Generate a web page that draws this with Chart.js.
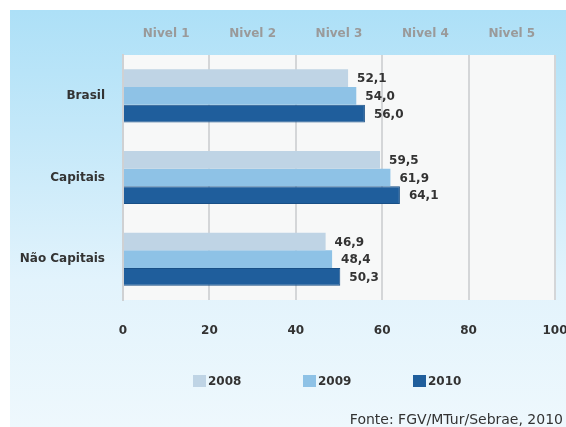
<!DOCTYPE html>
<html>

<head>
  <title>Nivel de competitividade</title>
  <script src="https://cdn.jsdelivr.net/npm/chart.js"></script>
  <style>
    body { margin: 0; background: #fff; }
    #wrap { position: relative; width: 566px; height: 427px; overflow: hidden; }
    #bg { position: absolute; left: 10px; top: 10px; right: 0; bottom: 0;
          background: linear-gradient(#ade0f7 0%, #c4e8f9 30%, #e2f3fc 65%, #eef8fd 100%); }
    #myChart { position: absolute; left: 0; top: 0; }
    #fonte { position: absolute; right: 3px; top: 411px; font: 14px "DejaVu Sans"; color: #333; }
  </style>
</head>

<body>
  <div id="wrap">
    <div id="bg"></div>
    <canvas id="myChart" width="566" height="427"></canvas>
    <div id="fonte">Fonte: FGV/MTur/Sebrae, 2010</div>
  </div>
  <script>
    // dados
    const categorias = ['Brasil', 'Capitais', 'Não Capitais'];
    const niveis = ['Nivel 1', 'Nivel 2', 'Nivel 3', 'Nivel 4', 'Nivel 5'];
    const anos = ['2008', '2009', '2010'];
    const valores2008 = [52.1, 59.5, 46.9];
    const valores2009 = [54.0, 61.9, 48.4];
    const valores2010 = [56.0, 64.1, 50.3];
    const cores = ['#bfd4e5', '#8ec2e6', '#1f5e9c'];

    const fmt = v => v.toFixed(1).replace('.', ',');

    // fundo da area do grafico
    const fundoPlugin = {
      id: 'fundo',
      beforeDraw(chart) {
        const a = chart.chartArea, ctx = chart.ctx;
        ctx.save();
        ctx.fillStyle = '#f7f8f8';
        ctx.fillRect(a.left, a.top, a.right - a.left, a.bottom - a.top);
        ctx.restore();
      }
    };

    // rotulos de valor
    const valoresPlugin = {
      id: 'valores',
      afterDatasetsDraw(chart) {
        const ctx = chart.ctx;
        ctx.save();
        ctx.font = 'bold 12px "DejaVu Sans"';
        ctx.fillStyle = '#333';
        ctx.textAlign = 'left';
        ctx.textBaseline = 'middle';
        chart.data.datasets.forEach((ds, i) => {
          chart.getDatasetMeta(i).data.forEach((bar, j) => {
            ctx.fillText(fmt(ds.data[j]), bar.x + 9, bar.y + 1);
          });
        });
        ctx.restore();
      }
    };

    // legenda
    const legendaPlugin = {
      id: 'legenda',
      afterDraw(chart) {
        const ctx = chart.ctx;
        ctx.save();
        ctx.font = 'bold 12px "DejaVu Sans"';
        ctx.textBaseline = 'middle';
        ctx.textAlign = 'left';
        let x = 193;
        const y = 381;
        chart.data.datasets.forEach(ds => {
          ctx.fillStyle = ds.backgroundColor;
          ctx.fillRect(x, y - 6, 13, 12);
          ctx.fillStyle = '#333';
          ctx.fillText(ds.label, x + 15, y + 1);
          x += 110;
        });
        ctx.restore();
      }
    };

    const ctx = document.getElementById('myChart').getContext('2d');
    Chart.defaults.font.family = '"DejaVu Sans"';

    new Chart(ctx, {
      type: 'bar',
      data: {
        labels: categorias,
        datasets: [{
          label: anos[0],
          data: valores2008,
          backgroundColor: cores[0],
        }, {
          label: anos[1],
          data: valores2009,
          backgroundColor: cores[1],
        }, {
          label: anos[2],
          data: valores2010,
          backgroundColor: cores[2],
          borderColor: '#184f86',
          borderWidth: 1,
        }]
      },
      options: {
        responsive: false,
        devicePixelRatio: 1,
        animation: false,
        indexAxis: 'y',
        categoryPercentage: 0.65,
        barPercentage: 1.0,
        layout: {
          padding: { top: 10, left: 10, right: 11, bottom: 67 }
        },
        plugins: {
          legend: { display: false },
          tooltip: { enabled: false }
        },
        scales: {
          x: {
            min: 0,
            max: 100,
            position: 'bottom',
            ticks: {
              stepSize: 20,
              padding: 24,
              color: '#333',
              font: { size: 12, weight: 'bold' }
            },
            grid: {
              color: '#d4d6d8',
              lineWidth: 2,
              drawTicks: false
            },
            border: { display: false },
            afterFit(s) { s.height = 60; s.paddingLeft = 0; s.paddingRight = 0; }
          },
          x2: {
            type: 'category',
            labels: niveis,
            position: 'top',
            offset: true,
            ticks: {
              padding: 14,
              color: '#9a9a9a',
              font: { size: 12, weight: 'bold' }
            },
            grid: { display: false, drawTicks: false },
            border: { display: false },
            afterFit(s) { s.height = 45; s.paddingLeft = 0; s.paddingRight = 0; }
          },
          y: {
            ticks: {
              padding: 18,
              color: '#333',
              font: { size: 12, weight: 'bold' }
            },
            grid: { display: false, drawTicks: false },
            border: { display: true, color: '#cfd1d3', width: 2 },
            afterFit(s) { s.width = 113; }
          }
        }
      },
      plugins: [fundoPlugin, valoresPlugin, legendaPlugin]
    });
  </script>
</body>

</html>
